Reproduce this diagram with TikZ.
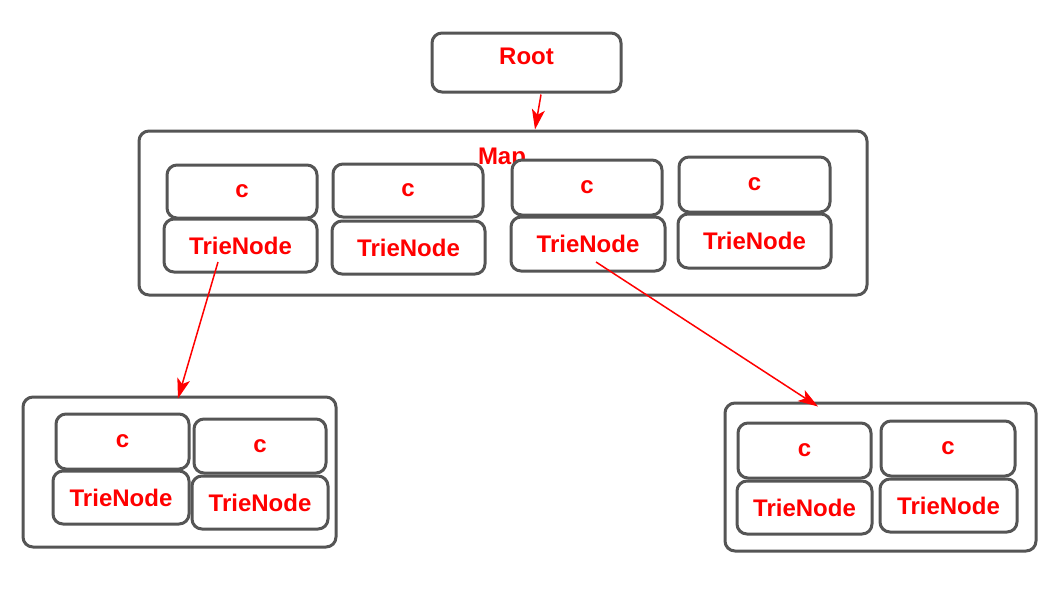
\documentclass[tikz,border=0pt]{standalone}
\usepackage{fontspec}
\setmainfont{Liberation Sans}
\usetikzlibrary{arrows.meta}
\definecolor{boxgray}{HTML}{555555}
\definecolor{txtred}{HTML}{FF0000}
\tikzset{
  box/.style={draw=boxgray, line width=3pt, rounded corners=10pt, fill=white,
    text=txtred, font=\bfseries\fontsize{24}{28}\selectfont, inner sep=0pt, align=center},
  arr/.style={draw=txtred, line width=1.5pt, -{Stealth[length=20pt,width=13pt,inset=5pt]}},
}
\begin{document}
\begin{tikzpicture}[x=1pt,y=-1pt]
\useasboundingbox (0,0) rectangle (1062,603);
% Root
\node[box, minimum width=189pt, minimum height=59pt, text depth=12pt] (root) at (526.5,62.5) {Root};
% Map container
\node[box, minimum width=728pt, minimum height=164pt] (map) at (503,213) {};
\node[text=txtred, font=\bfseries\fontsize{24}{28}\selectfont, anchor=base, inner sep=0pt] (maplabel) at (502,164) {Map};
% Map entries
\node[box, minimum width=150pt, minimum height=53pt] (m1c) at (242,191.5) {c};
\node[box, minimum width=153pt, minimum height=53pt] (m1t) at (240.5,245.5) {TrieNode};
\node[box, minimum width=150pt, minimum height=53pt] (m2c) at (408,190.5) {c};
\node[box, minimum width=153pt, minimum height=53pt] (m2t) at (408.5,247.5) {TrieNode};
\node[box, minimum width=150pt, minimum height=55pt] (m3c) at (587,187.5) {c};
\node[box, minimum width=154pt, minimum height=54pt] (m3t) at (588,244) {TrieNode};
\node[box, minimum width=151pt, minimum height=55pt] (m4c) at (754.5,184.5) {c};
\node[box, minimum width=153pt, minimum height=54pt] (m4t) at (754.5,241) {TrieNode};
% Left child
\node[box, minimum width=313pt, minimum height=150pt] (left) at (179.5,472) {};
\node[box, minimum width=133pt, minimum height=55pt] (l1c) at (122.5,441.5) {c};
\node[box, minimum width=136pt, minimum height=53pt] (l1t) at (121,497.5) {TrieNode};
\node[box, minimum width=132pt, minimum height=54pt] (l2c) at (260,446) {c};
\node[box, minimum width=136pt, minimum height=53pt] (l2t) at (260,502.5) {TrieNode};
% Right child
\node[box, minimum width=311pt, minimum height=148pt] (right) at (880.5,477) {};
\node[box, minimum width=133pt, minimum height=55pt] (r1c) at (804.5,450.5) {c};
\node[box, minimum width=135pt, minimum height=53pt] (r1t) at (804.5,507.5) {TrieNode};
\node[box, minimum width=134pt, minimum height=55pt] (r2c) at (948,448.5) {c};
\node[box, minimum width=137pt, minimum height=53pt] (r2t) at (948.5,505.5) {TrieNode};
% Arrows
\draw[arr] ([xshift=14.5pt,yshift=-1pt]root.south) -- ([xshift=32pt]map.north);
\draw[arr] ([xshift=-22.5pt,yshift=-16.5pt]m1t.center) -- ([xshift=-1.5pt,yshift=-3pt]left.north);
\draw[arr] ([xshift=8pt,yshift=-18pt]m3t.center) -- ([xshift=-62.5pt,yshift=-5pt]right.north);
\end{tikzpicture}
\end{document}
